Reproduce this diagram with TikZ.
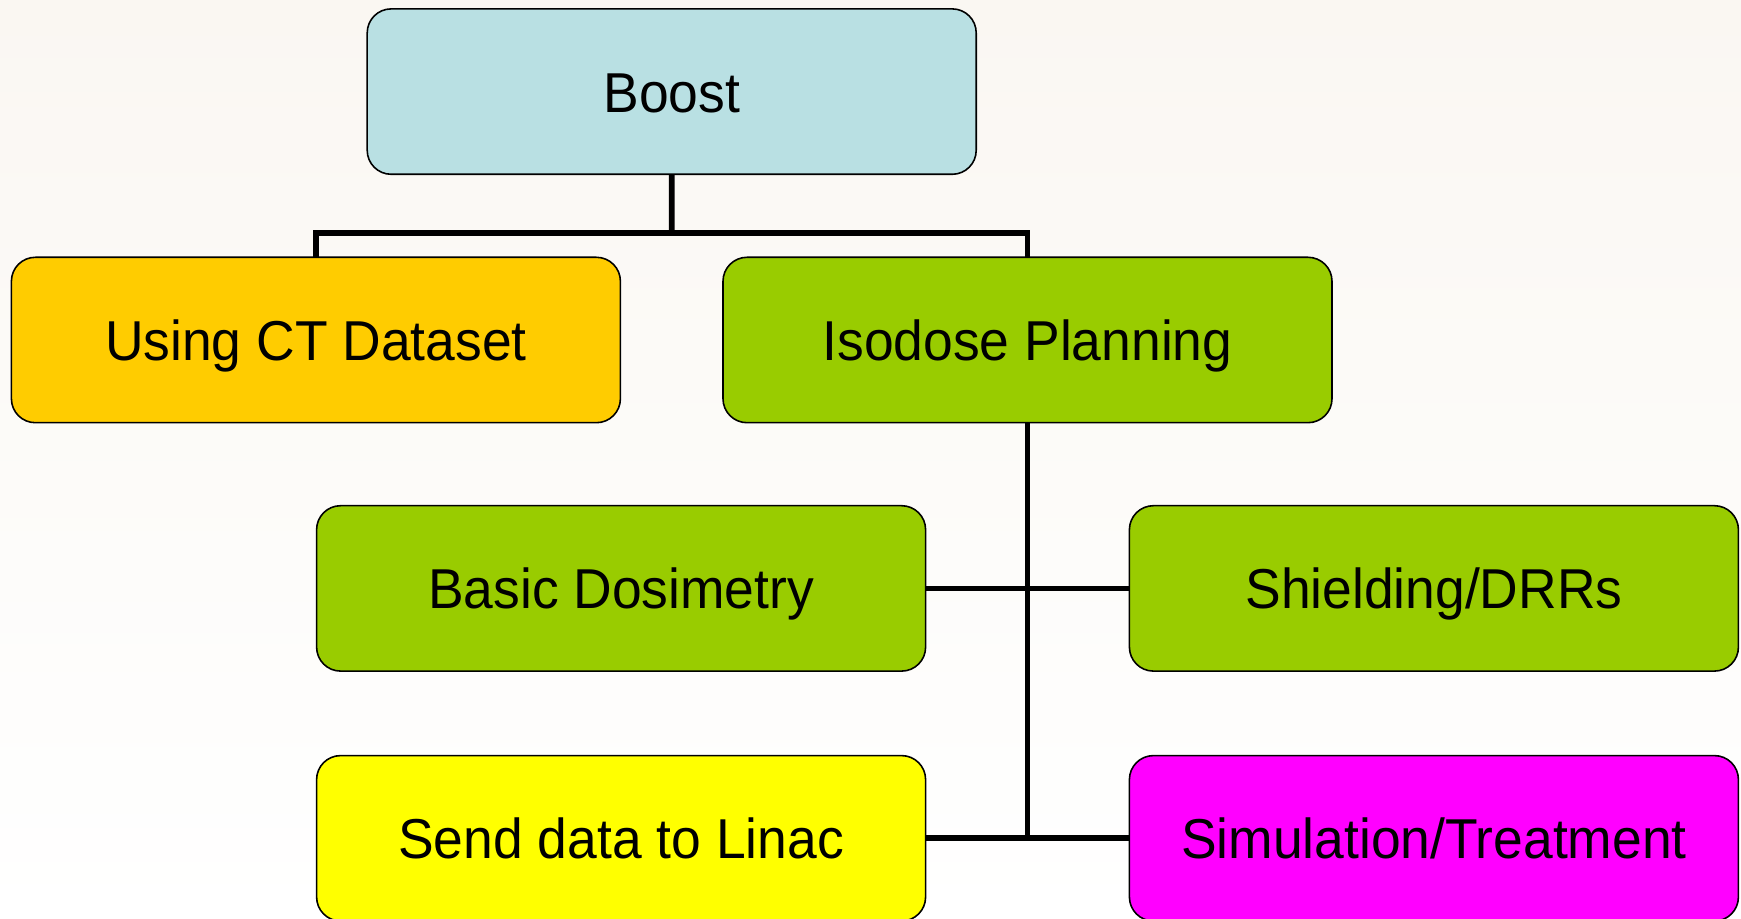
\documentclass[tikz,border=0pt]{standalone}
\usepackage{xcolor}
\usepackage{tikz}
\usepackage{fontspec}
\setmainfont{Liberation Sans}[FakeStretch=0.95]
\usetikzlibrary{
positioning,
calc
}
\definecolor{bgtop}{HTML}{FAF7F2}
\definecolor{bootblue}{HTML}{B9E0E3}
\definecolor{ctorange}{HTML}{FFCC00}
\definecolor{plangreen}{HTML}{99CC00}
\definecolor{linacyellow}{HTML}{FFFF00}
\definecolor{simmagenta}{HTML}{FF00FF}

\begin{document}
\begin{tikzpicture}[
node distance=0.83cm,
box/.style={
rectangle,
rounded corners=0.24cm,
draw=black,
line width=0.45pt,
minimum width=6.09cm,
minimum height=1.654cm,
inner sep=0pt,
outer sep=0pt,
text height=0.41cm,
text depth=0pt,
align=center,
font=\fontsize{16}{19}\selectfont
},
link/.style={line width=1.6pt}
]

% page and background
\shade[top color=bgtop, bottom color=white] (0,0) rectangle (17.41,-9.19);
\useasboundingbox (0,0) rectangle (17.41,-9.19);

\node[box, fill=bootblue] (boost) at (6.717,-0.916) {Boost};

\node[box, fill=ctorange, below=of boost, xshift=-3.558cm] (ct)
{Using CT Dataset};

\node[box, fill=plangreen, below=of boost, xshift=3.558cm] (iso)
{Isodose Planning};

\node[box, fill=plangreen, below=of iso, xshift=-4.064cm] (basic)
{Basic Dosimetry};

\node[box, fill=plangreen, below=of iso, xshift=4.064cm] (shield)
{Shielding/DRRs};

\node[box, fill=linacyellow, below=0.845cm of basic] (send)
{Send data to Linac};

\node[box, fill=simmagenta, below=0.845cm of shield] (sim)
{Simulation/Treatment};

% tree connectors
\coordinate (bus) at ($(ct.north)!0.5!(iso.north)+(0,0.244)$);
\draw[link] (boost.south) -- (bus);
\draw[link] (ct.north) |- (bus) -| (iso.north);
\draw[link] (iso.south) -- (iso.south |- send.east);
\draw[link] (basic.east) -- (shield.west);
\draw[link] (send.east) -- (sim.west);

\end{tikzpicture}
\end{document}
